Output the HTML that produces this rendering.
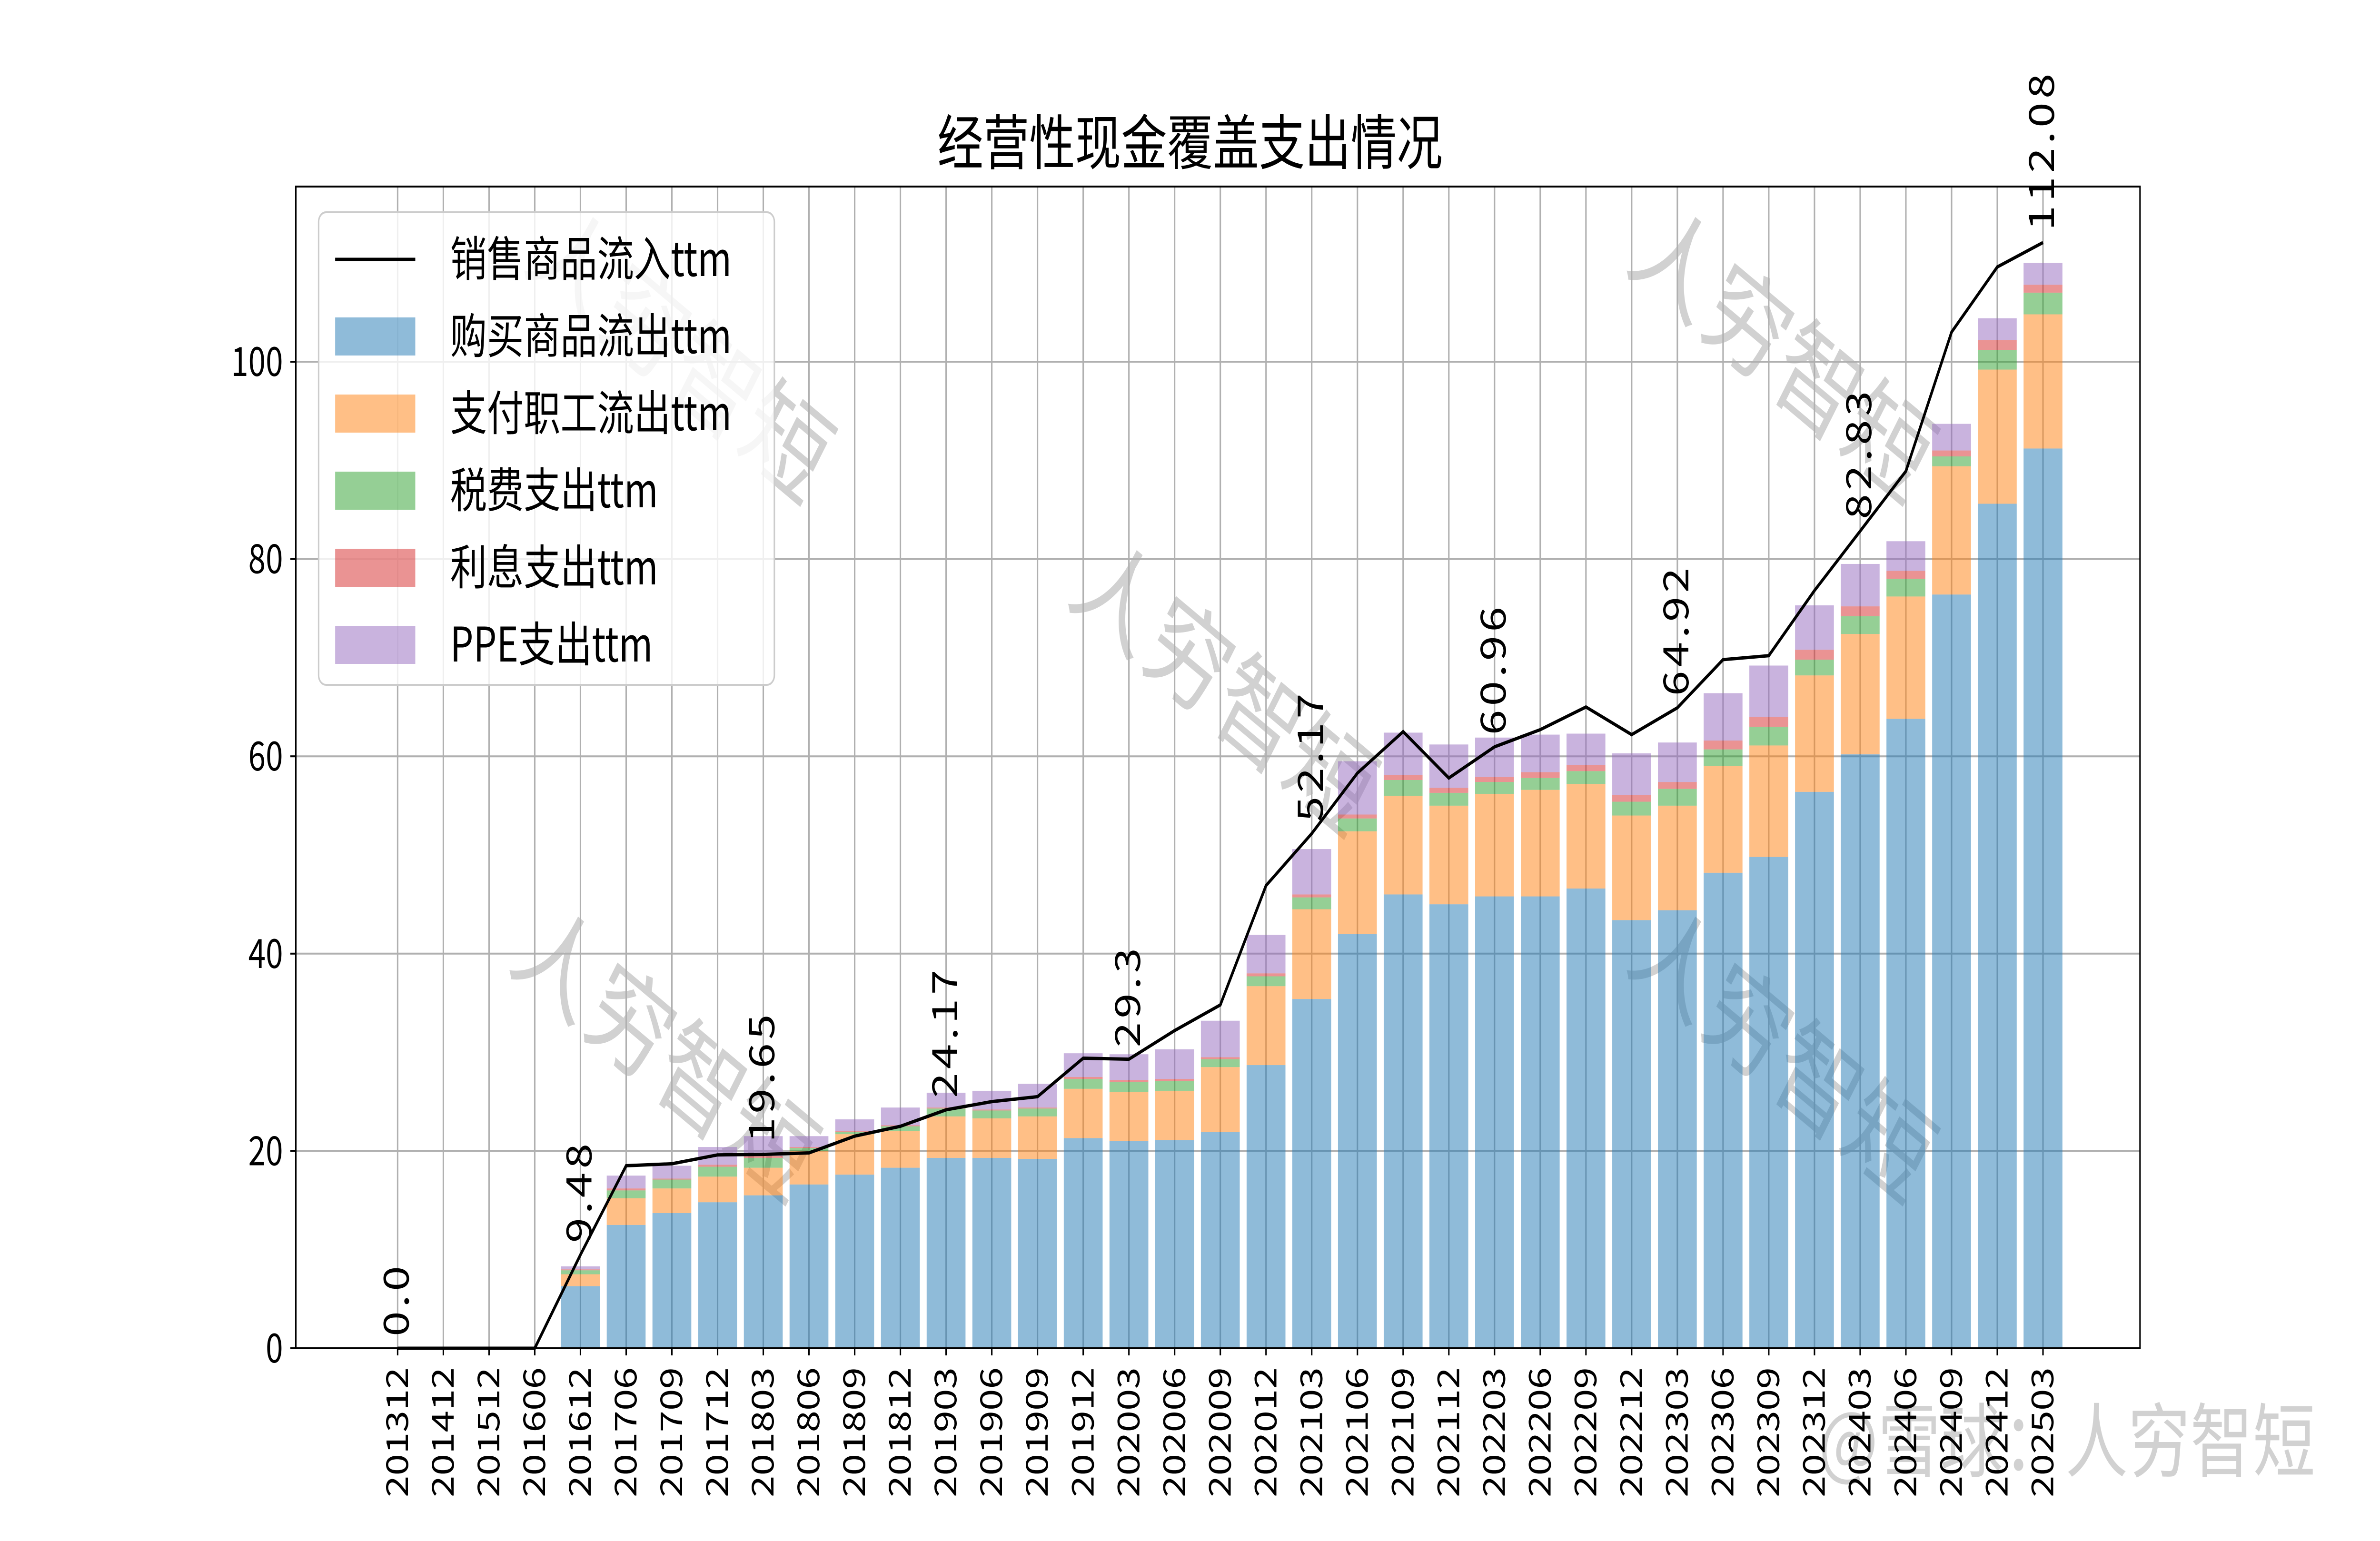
<!DOCTYPE html>
<html><head><meta charset="utf-8"><style>
html,body{margin:0;padding:0;background:#fff;width:100%;height:100%;overflow:hidden;}
svg{display:block;width:100vw;height:100vh;font-family:"Noto Sans CJK SC","Liberation Sans",sans-serif;}
</style></head><body>
<svg id="chart" viewBox="0 0 6476 3238" preserveAspectRatio="none" xmlns="http://www.w3.org/2000/svg">
<rect width="6476" height="3238" fill="#fff"/>
<g id="wm" fill="#000" fill-opacity="0.18" font-size="230">
<text transform="translate(1420,560) rotate(33)">人穷智短</text>
<text transform="translate(2900,1260) rotate(33)">人穷智短</text>
<text transform="translate(1380,2030) rotate(33)">人穷智短</text>
<text transform="translate(4420,560) rotate(33)">人穷智短</text>
<text transform="translate(4420,2030) rotate(33)">人穷智短</text>
</g>
<text x="6300" y="3090" text-anchor="end" font-size="170" fill="#000" fill-opacity="0.18">@雪球：人穷智短</text>
<text x="3238" y="345" text-anchor="middle" font-size="125" fill="#000">经营性现金覆盖支出情况</text>
<g id="grid"></g>
<g id="bars"></g>
<g id="line"></g>
<g id="axes"></g>
<g id="legend"></g>
</svg>
<script>
const categories=["201312","201412","201512","201606","201612","201706","201709","201712","201803","201806","201809","201812","201903","201906","201909","201912","202003","202006","202009","202012","202103","202106","202109","202112","202203","202206","202209","202212","202303","202306","202309","202312","202403","202406","202409","202412","202503"];
const salesIn=[0,0,0,0,9.48,18.5,18.7,19.6,19.65,19.8,21.5,22.5,24.17,25,25.5,29.4,29.3,32.2,34.8,46.9,52.17,58.3,62.5,57.8,60.96,62.7,65,62.2,64.92,69.8,70.2,76.8,82.83,88.9,103,109.6,112.08];
const buyOut=[0,0,0,0,6.3,12.5,13.7,14.8,15.5,16.6,17.6,18.3,19.3,19.3,19.2,21.3,21.0,21.1,21.9,28.7,35.4,42.0,46.0,45.0,45.8,45.8,46.6,43.4,44.4,48.2,49.8,56.4,60.2,63.8,76.4,85.6,91.2];
const staffOut=[0,0,0,0,1.2,2.7,2.5,2.6,2.8,3.4,4.1,3.7,4.2,4.0,4.3,5.0,5.0,5.0,6.6,8.0,9.1,10.4,10.0,10.0,10.4,10.8,10.6,10.6,10.6,10.8,11.3,11.8,12.2,12.4,13.0,13.6,13.6];
const taxOut=[0,0,0,0,0.4,0.8,0.9,1.0,1.0,0.3,0.2,0.5,0.8,0.8,0.8,1.0,1.0,1.0,0.8,1.0,1.2,1.3,1.6,1.3,1.2,1.2,1.3,1.4,1.7,1.7,1.9,1.6,1.8,1.8,1.0,2.0,2.2];
const interestOut=[0,0,0,0,0.1,0.2,0.1,0.2,0.2,0.1,0.1,0.1,0.1,0.1,0.1,0.2,0.2,0.2,0.2,0.3,0.3,0.4,0.5,0.5,0.5,0.6,0.6,0.7,0.7,0.9,1.0,1.0,1.0,0.8,0.6,1.0,0.8];
const ppeOut=[0,0,0,0,0.3,1.3,1.3,1.8,2.0,1.1,1.2,1.8,1.5,1.9,2.4,2.4,2.6,3.0,3.7,3.9,4.6,5.4,4.3,4.4,4.0,3.8,3.2,4.2,4.0,4.8,5.2,4.5,4.3,3.0,2.7,2.2,2.2];
const yTicks=[0,20,40,60,80,100];
const seriesNames=["销售商品流入ttm","购买商品流出ttm","支付职工流出ttm","税费支出ttm","利息支出ttm","PPE支出ttm"];

const NS="http://www.w3.org/2000/svg";
const L=805,R=5823,T=392,B=2833;
const x0=L+277, step=(5559-1082)/36;
function xs(i){return x0+i*step;}
function ys(v){return B-(B-760)*v/100;}
function mk(tag,attrs,parent){const e=document.createElementNS(NS,tag);for(const k in attrs)e.setAttribute(k,attrs[k]);parent.appendChild(e);return e;}
const grid=document.getElementById('grid'),bars=document.getElementById('bars'),line=document.getElementById('line'),axes=document.getElementById('axes'),legend=document.getElementById('legend');
categories.forEach((c,i)=>{
  const g=mk('line',{x1:xs(i),x2:xs(i),y1:T,y2:B,stroke:'#b0b0b0','stroke-width':4},grid);
  
  
  const tk=mk('line',{x1:xs(i),x2:xs(i),y1:B,y2:B+15,stroke:'#000','stroke-width':4},axes);
  
  
  const t=mk('text',{transform:`translate(${xs(i)+28},${B+40}) rotate(-90)`,'text-anchor':'end','font-size':82,fill:'#000'},axes);
  t.textContent=c;
  
  
});
yTicks.forEach(v=>{
  const g=mk('line',{x1:L,x2:R,y1:ys(v),y2:ys(v),stroke:'#b0b0b0','stroke-width':4},grid);
  
  
  const tk=mk('line',{x1:L-15,x2:L,y1:ys(v),y2:ys(v),stroke:'#000','stroke-width':4},axes);
  
  
  const t=mk('text',{x:L-35,y:ys(v)+30,'text-anchor':'end','font-size':85,fill:'#000'},axes);
  t.textContent=String(v);
  
  
});
const frame=mk('rect',{x:L,y:T,width:R-L,height:B-T,fill:'none',stroke:'#000','stroke-width':4},axes);


const stacks=[buyOut,staffOut,taxOut,interestOut,ppeOut];
const colors=['#1f77b4','#ff7f0e','#2ca02c','#d62728','#9467bd'];
const bw=step*0.85;
categories.forEach((c,i)=>{
  let base=0;
  stacks.forEach((s,k)=>{
    const v=s[i]; if(v<=0) return;
    const r=mk('rect',{x:xs(i)-bw/2,y:ys(base+v),width:bw,height:ys(base)-ys(base+v),fill:colors[k],'fill-opacity':0.5},bars);
    
    
    base+=v;
  });
});
const pts=salesIn.map((v,i)=>xs(i)+','+ys(v)).join(' ');
const pl=mk('polyline',{points:pts,fill:'none',stroke:'#000','stroke-width':7},line);


for(let i=0;i<salesIn.length;i+=4){
  const t=mk('text',{transform:`translate(${xs(i)+30},${ys(salesIn[i])-25}) rotate(-90)`,'font-size':95,fill:'#000','letter-spacing':'8'},line);
  t.textContent=String(salesIn[i]===0?'0.0':salesIn[i]);
  
  
}
const lb=mk('rect',{x:867,y:446,width:1240,height:993,rx:20,fill:'#fff','fill-opacity':0.8,stroke:'#ccc','stroke-width':4},legend);


seriesNames.forEach((n,k)=>{
  const cy=545+k*162;
  if(k===0){
    const s=mk('line',{x1:912,x2:1130,y1:cy,y2:cy,stroke:'#000','stroke-width':7},legend);
    
    
  } else {
    const s=mk('rect',{x:912,y:cy-40,width:218,height:80,fill:colors[k-1],'fill-opacity':0.5},legend);
    
    
  }
  const t=mk('text',{x:1225,y:cy+35,'font-size':100,fill:'#000'},legend);
  t.textContent=n;
  
  
});
</script>
</body></html>
